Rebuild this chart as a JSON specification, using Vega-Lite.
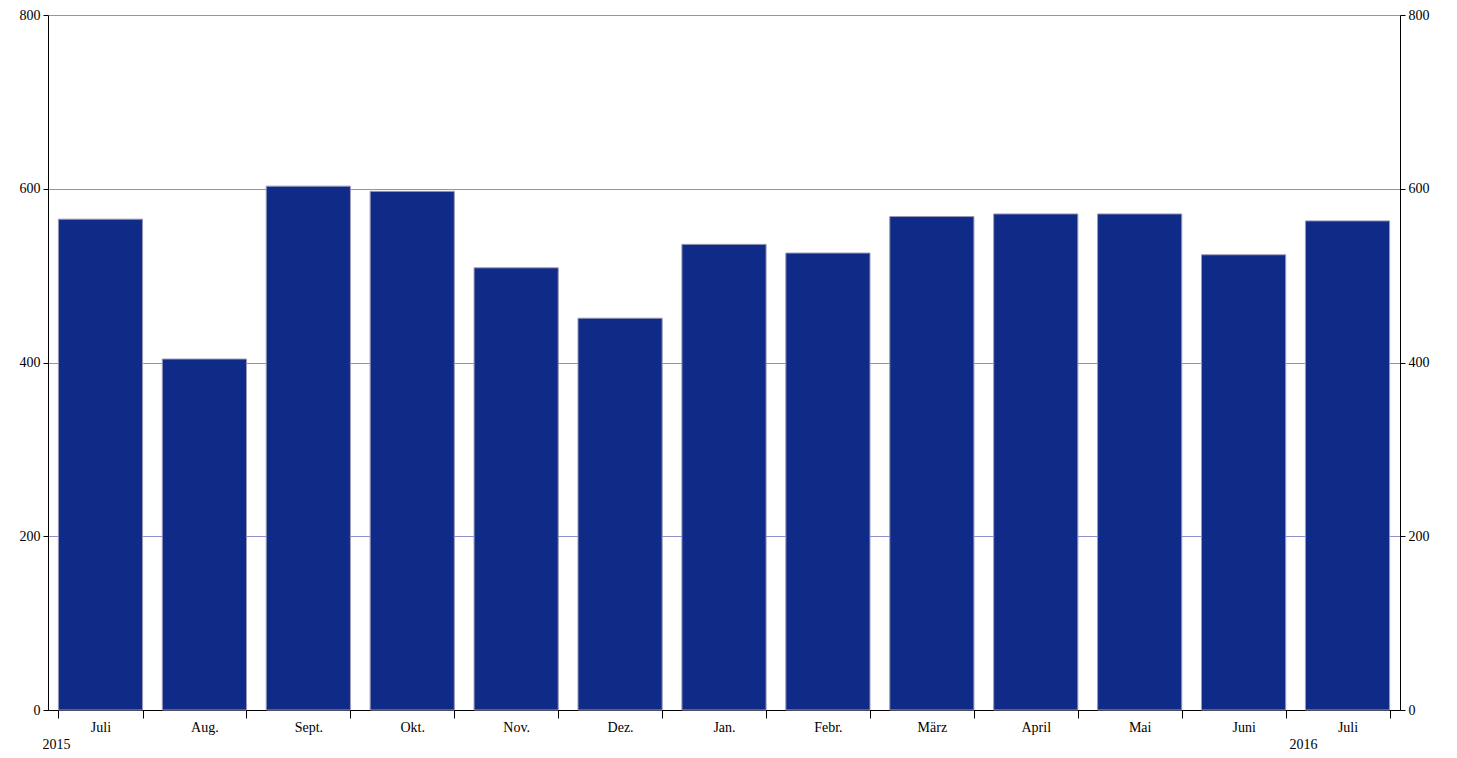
{
  "$schema": "https://vega.github.io/schema/vega-lite/v6.json",
  "width": 1352,
  "height": 695,
  "autosize": {"type": "none"},
  "padding": {"left": 48, "top": 15, "right": 57, "bottom": 48},
  "background": "white",
  "config": {
    "font": "Liberation Serif",
    "view": {"stroke": null},
    "axis": {"labelFont": "Liberation Serif", "labelFontSize": 14, "labelColor": "black", "domainColor": "black", "tickColor": "black"}
  },
  "data": {
    "values": [
      {"key": "2015-07", "month": "Juli", "year": "2015", "value": 565},
      {"key": "2015-08", "month": "Aug.", "year": "", "value": 404},
      {"key": "2015-09", "month": "Sept.", "year": "", "value": 603},
      {"key": "2015-10", "month": "Okt.", "year": "", "value": 597},
      {"key": "2015-11", "month": "Nov.", "year": "", "value": 509},
      {"key": "2015-12", "month": "Dez.", "year": "", "value": 451},
      {"key": "2016-01", "month": "Jan.", "year": "", "value": 536},
      {"key": "2016-02", "month": "Febr.", "year": "", "value": 526},
      {"key": "2016-03", "month": "März", "year": "", "value": 568},
      {"key": "2016-04", "month": "April", "year": "", "value": 571},
      {"key": "2016-05", "month": "Mai", "year": "", "value": 571},
      {"key": "2016-06", "month": "Juni", "year": "", "value": 524},
      {"key": "2016-07", "month": "Juli", "year": "2016", "value": 563}
    ]
  },
  "encoding": {
    "x": {
      "field": "key", "type": "ordinal", "sort": null,
      "scale": {"paddingInner": 0.19, "paddingOuter": 0.1},
      "axis": {
        "title": null, "labelAngle": 0, "tickBand": "extent", "tickSize": 8,
        "labelPadding": 2,
        "labelExpr": "{'2015-07':'Juli','2015-08':'Aug.','2015-09':'Sept.','2015-10':'Okt.','2015-11':'Nov.','2015-12':'Dez.','2016-01':'Jan.','2016-02':'Febr.','2016-03':'März','2016-04':'April','2016-05':'Mai','2016-06':'Juni','2016-07':'Juli'}[datum.value]"
      }
    }
  },
  "layer": [
    {
      "mark": {"type": "bar", "color": "#0f2a87", "stroke": "#9a9ab8", "strokeWidth": 1},
      "encoding": {
        "y": {
          "field": "value", "type": "quantitative",
          "scale": {"domain": [0, 800]},
          "axis": {"title": null, "values": [0, 200, 400, 600, 800], "grid": true, "gridColor": "#8e8ed0", "gridOpacity": 1, "tickSize": 5, "labelPadding": 3}
        }
      }
    },
    {
      "mark": {"type": "bar", "opacity": 0},
      "encoding": {
        "y": {
          "field": "value", "type": "quantitative",
          "scale": {"domain": [0, 800]},
          "axis": {"title": null, "orient": "right", "values": [0, 200, 400, 600, 800], "grid": false, "tickSize": 5, "labelPadding": 3}
        }
      }
    },
    {
      "mark": {"type": "text", "align": "left", "baseline": "top", "fontSize": 14, "dy": 28, "dx": -16, "font": "Liberation Serif"},
      "encoding": {
        "x": {"field": "key", "type": "ordinal", "sort": null, "bandPosition": 0},
        "y": {"datum": 0, "type": "quantitative", "scale": {"domain": [0, 800]}, "axis": null},
        "text": {"field": "year"}
      }
    }
  ],
  "resolve": {"scale": {"y": "independent"}}
}
